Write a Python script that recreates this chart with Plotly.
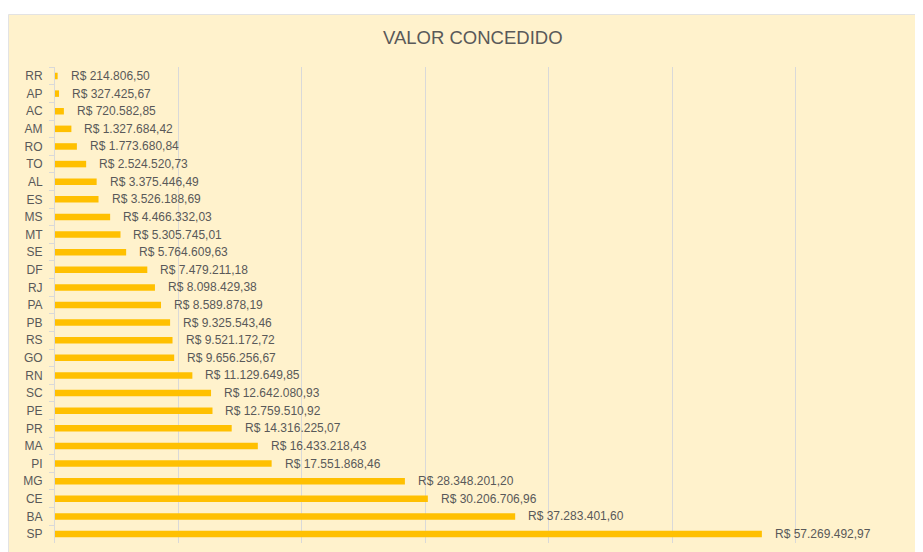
import plotly.graph_objects as go

estados = ["RR", "AP", "AC", "AM", "RO", "TO", "AL", "ES", "MS", "MT", "SE", "DF", "RJ", "PA",
           "PB", "RS", "GO", "RN", "SC", "PE", "PR", "MA", "PI", "MG", "CE", "BA", "SP"]
valores = [214806.50, 327425.67, 720582.85, 1327684.42, 1773680.84, 2524520.73, 3375446.49,
           3526188.69, 4466332.03, 5305745.01, 5764609.63, 7479211.18, 8098429.38, 8589878.19,
           9325543.46, 9521172.72, 9656256.67, 11129649.85, 12642080.93, 12759510.92,
           14316225.07, 16433218.43, 17551868.46, 28348201.20, 30206706.96, 37283401.60,
           57269492.97]
titulo = "VALOR CONCEDIDO"


def brl(v):
    s = f"{v:,.2f}"
    s = s.replace(",", "X").replace(".", ",").replace("X", ".")
    return "R$ " + s


# page body has an 8px margin; figure sized to fit the 923x552 window
OFF = 8
W, H = 923 - OFF, 552 - OFF
ml = 55 - OFF
mt = 67 - OFF
mr = W - (919.5 - OFF)
mb = H - (543 - OFF)
pw = W - ml - mr
ph = H - mt - mb

fig = go.Figure()
fig.add_trace(go.Bar(
    x=valores, y=estados, orientation="h",
    marker=dict(color="#FFC000", line=dict(width=0)),
    hoverinfo="skip",
))

for e, v in zip(estados, valores):
    fig.add_annotation(
        x=v, y=e, xref="x", yref="y", text=brl(v), showarrow=False,
        xanchor="left", yanchor="middle", xshift=11,
        font=dict(family="Liberation Sans", size=12, color="#595959"),
    )

# chart area background
fig.add_shape(
    type="rect", xref="paper", yref="paper", layer="below",
    x0=(0.5 - ml) / pw, x1=1.05, y0=-0.1, y1=1 + (mt - 6.5) / ph,
    fillcolor="#FFF2CC", line=dict(color="#E3E3E3", width=1),
)

fig.update_layout(
    width=W, height=H,
    margin=dict(l=ml, r=mr, t=mt, b=mb),
    paper_bgcolor="white",
    plot_bgcolor="rgba(0,0,0,0)",
    showlegend=False,
    bargap=0.63,
    title=dict(
        text=titulo, x=(473 - OFF - ml) / pw, xref="paper", xanchor="center",
        y=1 - (38 - OFF) / H, yanchor="middle",
        font=dict(family="Liberation Sans", size=18.5, color="#595959"),
    ),
    xaxis=dict(
        range=[0, 70e6], dtick=10e6, showticklabels=False, showgrid=True,
        gridcolor="#D9D9D9", gridwidth=1, zeroline=False, showline=False,
        fixedrange=True,
    ),
    yaxis=dict(
        type="category", autorange="reversed", showline=True, linecolor="#D9D9D9",
        linewidth=1, ticks="outside", tickson="boundaries", ticklen=5,
        tickcolor="#D9D9D9", ticklabelstandoff=9, showgrid=False,
        tickfont=dict(family="Liberation Sans", size=12, color="#595959"),
        fixedrange=True,
    ),
)

fig.write_html("out.html")
